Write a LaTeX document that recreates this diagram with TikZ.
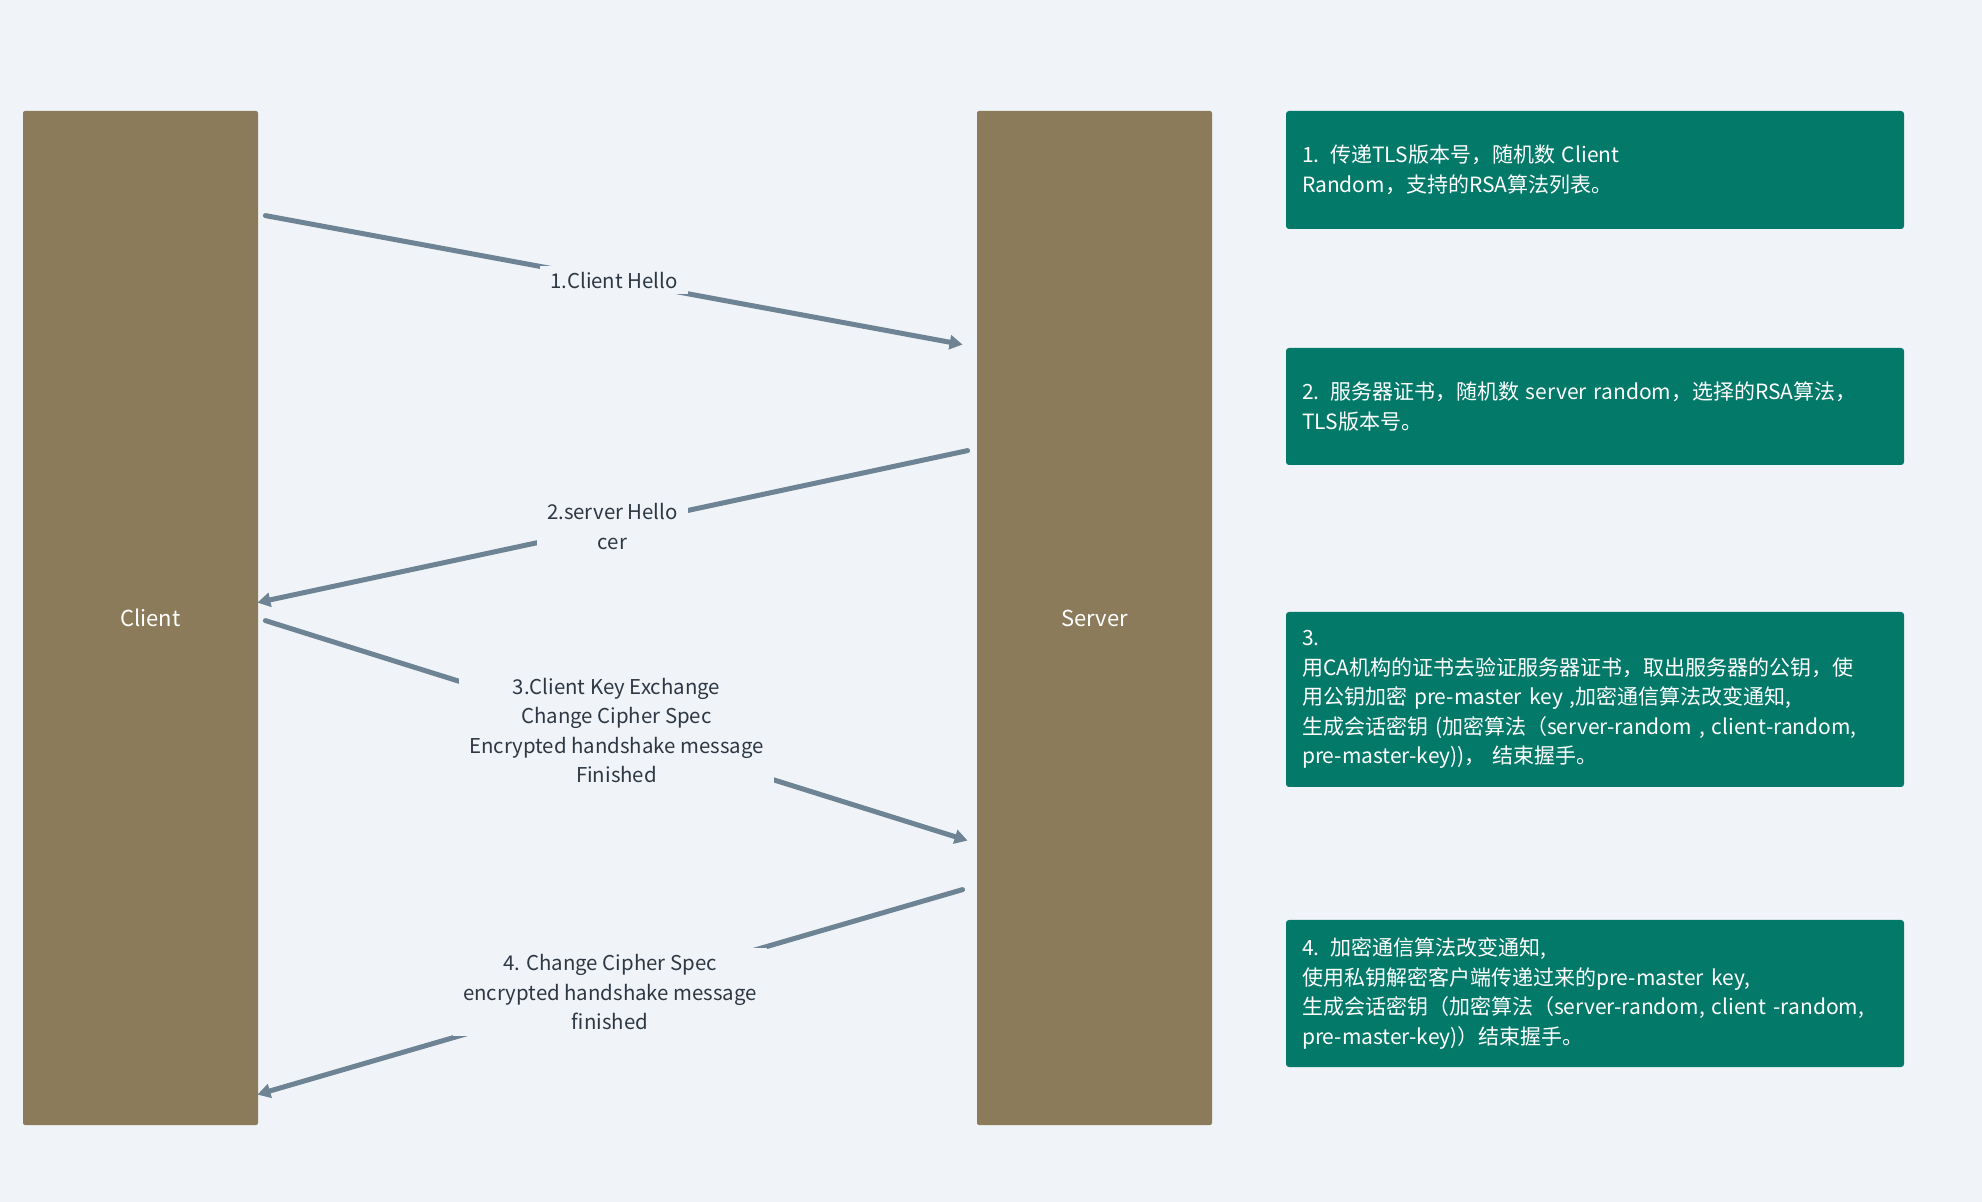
\documentclass[tikz,border=0pt]{standalone}
\usepackage{fontspec}
\setmainfont{Noto Sans CJK SC}
\usetikzlibrary{arrows.meta,calc}
\definecolor{bgcol}{HTML}{F0F4F8}
\definecolor{lanecol}{HTML}{8B7B5A}
\definecolor{notecol}{HTML}{037A69}
\definecolor{msgcol}{HTML}{6E8494}
\definecolor{labelcol}{HTML}{2D3844}
\begin{document}
\begin{tikzpicture}[x=0.5pt,y=-0.5pt,
  lane/.style={fill=lanecol, rounded corners=1pt, minimum width=117.5pt, minimum height=507pt, text=white, font=\fontsize{11}{13}\selectfont},
  note/.style={fill=notecol, rounded corners=1.5pt, text width=293pt, inner xsep=8pt, align=left, text=white, font=\fontsize{10.5}{14.75}\selectfont},
  msg/.style={draw=msgcol, line width=2.5pt, line cap=round, -{Triangle[length=6.5pt,width=7pt]}},
  msglabel/.style={fill=bgcol, text=labelcol, align=center, inner xsep=5pt, inner ysep=3pt, font=\fontsize{10.2}{14.75}\selectfont}]
   \fill[bgcol] (0,0) rectangle (1982,1202);
   \useasboundingbox (0,0) rectangle (1982,1202);
   % the two parties
   \node[lane] (client) at (140.5,618) {\hspace*{10pt}Client};
   \node[lane] (server) at (1094.5,618) {Server};
   % notes on the right
   \node[note, minimum height=59pt] (note1) at (1595,170) {1. 传递TLS版本号，随机数 Client\\Random，支持的RSA算法列表。};
   \node[note, minimum height=58.5pt] (note2) at (1595,406.5) {2. 服务器证书，随机数 server random，选择的RSA算法，\\TLS版本号。};
   \node[note, minimum height=87.5pt] (note3) at (1595,699.5) {3.\\用CA机构的证书去验证服务器证书，取出服务器的公钥，使\\用公钥加密 pre-master key ,加密通信算法改变通知,\\生成会话密钥 (加密算法（server-random , client-random,\\pre-master-key))， 结束握手。};
   \node[note, minimum height=73.5pt] (note4) at (1595,993.5) {4. 加密通信算法改变通知,\\使用私钥解密客户端传递过来的pre-master key,\\生成会话密钥（加密算法（server-random, client -random,\\pre-master-key)）结束握手。};
   % handshake messages
   \draw[msg] ($(client.north east)+(7,105)$) -- node[msglabel] (m1) {1.Client Hello} ($(server.north west)+(-14,234)$);
   \draw[msg] ($(server.north west)+(-9,340)$) -- node[msglabel] (m2) {2.server Hello\\cer} ($(client.north east)+(-1,492)$);
   \draw[msg] ($(client.north east)+(7,510)$) -- node[msglabel] (m3) {3.Client Key Exchange\\Change Cipher Spec\\Encrypted handshake message\\Finished} ($(server.north west)+(-9,730)$);
   \draw[msg] ($(server.north west)+(-14,779)$) -- node[msglabel] (m4) {4. Change Cipher Spec\\encrypted handshake message\\finished} ($(client.north east)+(-1,984)$);
\end{tikzpicture}
\end{document}
